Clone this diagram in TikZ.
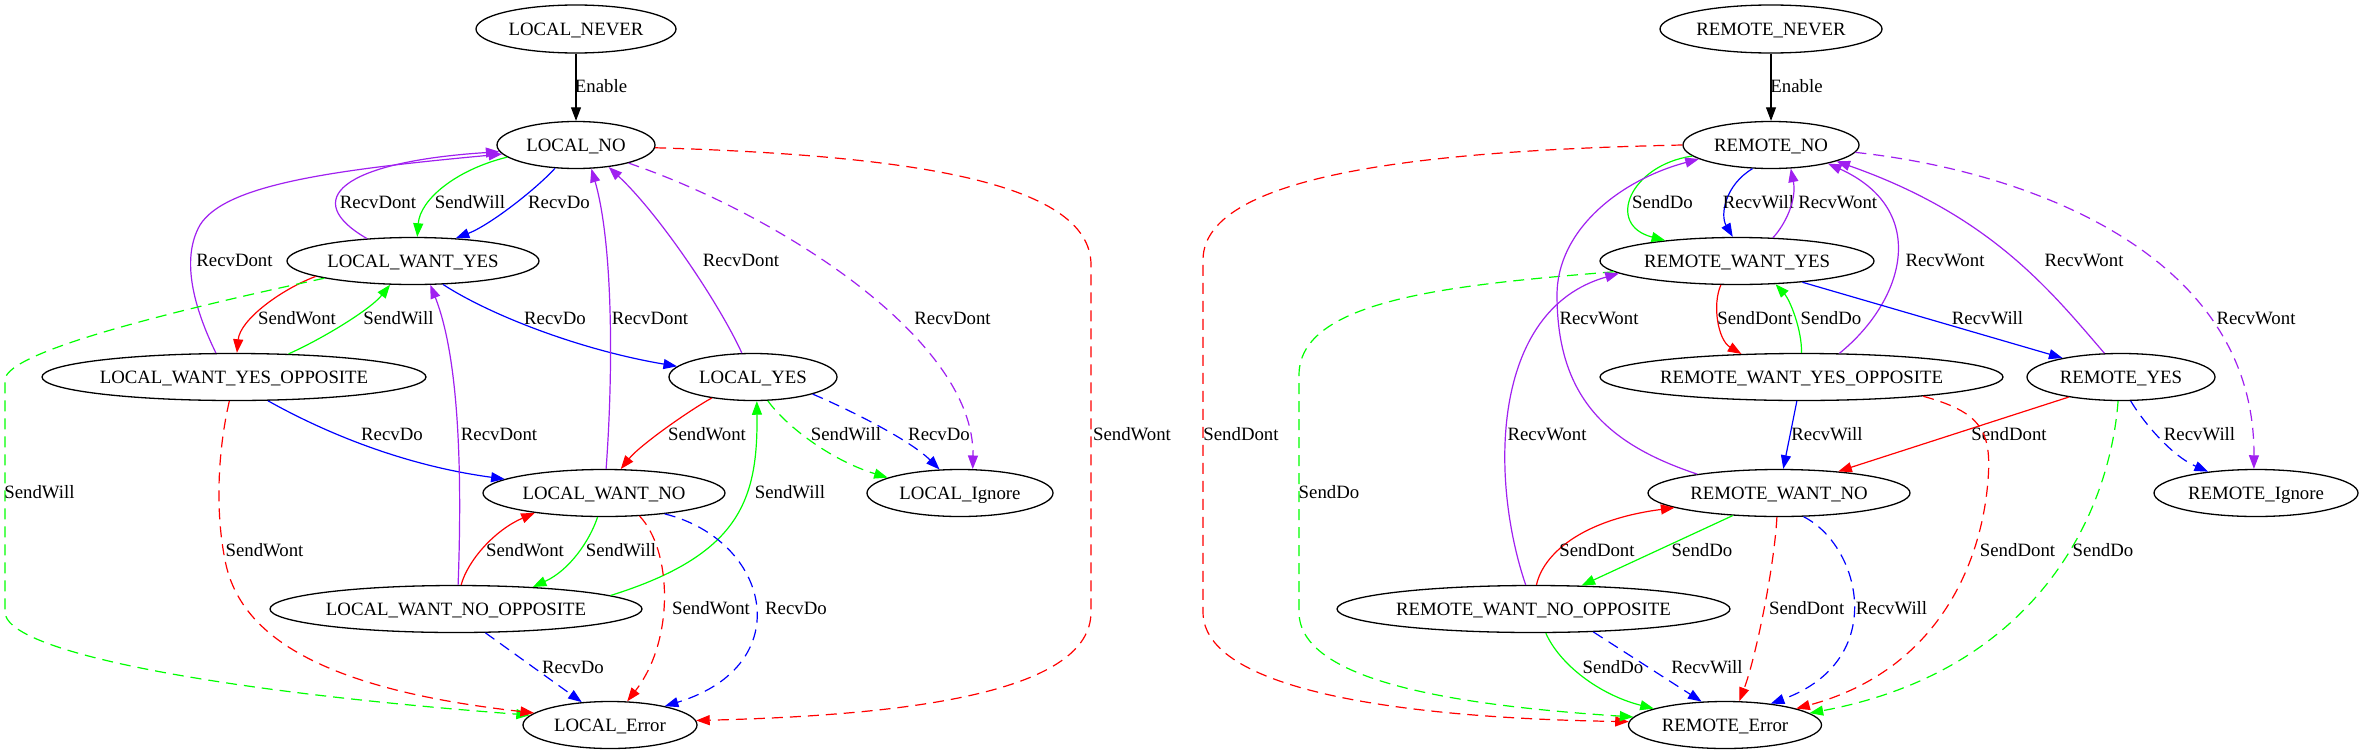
\documentclass[tikz,border=0pt]{standalone}
\usepackage{fontspec}
\setmainfont{Liberation Serif}
\usetikzlibrary{shapes.geometric,arrows.meta}
\definecolor{gvpurple}{HTML}{A020F0}
\definecolor{gvgreen}{HTML}{00FF00}
\definecolor{gvblue}{HTML}{0000FF}
\definecolor{gvred}{HTML}{FF0000}
\tikzset{
  st/.style={ellipse, draw=black, line width=0.65pt, inner sep=0pt, minimum height=23.5pt,
    font=\fontsize{9.4}{11}\selectfont, text height=6.2pt, text depth=0pt},
  lb/.style={inner sep=0pt, font=\fontsize{9.4}{11}\selectfont, text height=6.2pt, text depth=0pt, text=black},
  ar/.style={line width=0.6pt, -{Triangle[length=6.8pt,width=5pt]}},
  blk/.style={ar, draw=black},
  gr/.style={ar, draw=gvgreen},
  bl/.style={ar, draw=gvblue},
  rd/.style={ar, draw=gvred},
  pu/.style={ar, draw=gvpurple},
  dsh/.style={dash pattern=on 5.5pt off 3.5pt}
}
\begin{document}
\begin{tikzpicture}[x=0.5pt,y=-0.5pt]
\useasboundingbox (0,0) rectangle (2364,755);
\fill[white] (0,0) rectangle (2364,755);
% ---------- LOCAL nodes ----------
\node[st, minimum width=100pt, minimum height=24pt] (LN) at (576,29) {LOCAL\_NEVER};
\node[st, minimum width=79pt] (L0) at (576,145) {LOCAL\_NO};
\node[st, minimum width=126pt] (LWY) at (413,261) {LOCAL\_WANT\_YES};
\node[st, minimum width=192pt] (LWYO) at (234,377) {LOCAL\_WANT\_YES\_OPPOSITE};
\node[st, minimum width=84pt] (LY) at (753,377) {LOCAL\_YES};
\node[st, minimum width=121pt] (LWN) at (604,493) {LOCAL\_WANT\_NO};
\node[st, minimum width=93pt] (LI) at (960,493) {LOCAL\_Ignore};
\node[st, minimum width=186pt] (LWNO) at (456,609) {LOCAL\_WANT\_NO\_OPPOSITE};
\node[st, minimum width=87pt] (LE) at (610,725) {LOCAL\_Error};
% ---------- REMOTE nodes ----------
\node[st, minimum width=111pt, minimum height=24pt] (RN) at (1771,29) {REMOTE\_NEVER};
\node[st, minimum width=88pt] (R0) at (1771,145) {REMOTE\_NO};
\node[st, minimum width=137pt] (RWY) at (1737,261) {REMOTE\_WANT\_YES};
\node[st, minimum width=201.5pt] (RWYO) at (1801.5,377) {REMOTE\_WANT\_YES\_OPPOSITE};
\node[st, minimum width=94pt] (RY) at (2121,377) {REMOTE\_YES};
\node[st, minimum width=131pt] (RWN) at (1779,493) {REMOTE\_WANT\_NO};
\node[st, minimum width=102pt] (RI) at (2256,493) {REMOTE\_Ignore};
\node[st, minimum width=196.5pt] (RWNO) at (1533.5,609) {REMOTE\_WANT\_NO\_OPPOSITE};
\node[st, minimum width=96.5pt] (RE) at (1725,725) {REMOTE\_Error};
% ---------- LOCAL edges ----------
\draw[blk] (LN) -- (L0) node[lb] at (601,86) {Enable};
\draw[gr] (L0.190) .. controls (455,170) and (420,200) .. (LWY.80) node[lb] at (470,202) {SendWill};
\draw[bl] (L0.228) .. controls (535,190) and (490,225) .. (LWY.28) node[lb] at (559,202) {RecvDo};
\draw[pu] (LWY.154) .. controls (300,200) and (340,162) .. (L0.185) node[lb] at (378,202) {RecvDont};
\draw[pu] (LWYO.127) .. controls (195,310) and (180,260) .. (200,225) .. controls (225,185) and (330,170) .. (L0.187) node[lb] at (234.5,260) {RecvDont};
\draw[rd] (LWY.189) .. controls (280,290) and (240,320) .. (LWYO.83) node[lb] at (297,318) {SendWont};
\draw[gr] (LWYO.23) .. controls (320,340) and (370,310) .. (LWY.226) node[lb] at (398.5,318) {SendWill};
\draw[gr,dsh] (LWY.191) .. controls (200,305) and (5,350) .. (5,380) -- (5,612) .. controls (5,650) and (200,690) .. (LE.173) node[lb] at (39.5,492) {SendWill};
\draw[bl] (LWY.322) .. controls (490,315) and (580,350) .. (LY.172) node[lb] at (555,318) {RecvDo};
\draw[bl] (LWYO.325) .. controls (320,430) and (400,465) .. (LWN.172) node[lb] at (392,434) {RecvDo};
\draw[rd,dsh] (LWYO.259) .. controls (218,450) and (215,510) .. (225,560) .. controls (240,640) and (330,690) .. (LE.171) node[lb] at (264.5,550) {SendWont};
\draw[pu] (LWNO.85) .. controls (462,480) and (460,360) .. (LWY.306) node[lb] at (499,434) {RecvDont};
\draw[pu] (LWN.85) .. controls (614,360) and (612,240) .. (L0.303) node[lb] at (650,318) {RecvDont};
\draw[pu] (LY.115) .. controls (720,305) and (660,215) .. (L0.326) node[lb] at (741,260) {RecvDont};
\draw[pu,dsh] (L0.341) .. controls (780,215) and (975,340) .. (LI.62) node[lb] at (952.5,318) {RecvDont};
\draw[rd,dsh] (L0.358) .. controls (900,155) and (1091,180) .. (1091,265) -- (1091,612) .. controls (1091,690) and (920,715) .. (LE.3) node[lb] at (1132,434) {SendWont};
\draw[rd] (LY.207) .. controls (690,410) and (640,445) .. (LWN.55) node[lb] at (707,434) {SendWont};
\draw[gr,dsh] (LY.302) .. controls (785,425) and (830,460) .. (LI.168) node[lb] at (846,434) {SendWill};
\draw[bl,dsh] (LY.344) .. controls (850,410) and (910,440) .. (LI.131) node[lb] at (939,434) {RecvDo};
\draw[gr] (LWN.255) .. controls (590,540) and (570,570) .. (LWNO.16) node[lb] at (621,550) {SendWill};
\draw[rd] (LWNO.78) .. controls (468,560) and (495,530) .. (LWN.196) node[lb] at (525,550) {SendWont};
\draw[gr] (LWNO.5) .. controls (740,555) and (758,500) .. (LY.279) node[lb] at (790,492) {SendWill};
\draw[rd,dsh] (LWN.327) .. controls (672,550) and (675,640) .. (LE.54) node[lb] at (711,608) {SendWont};
\draw[bl,dsh] (LWN.341) .. controls (770,540) and (800,665) .. (LE.19) node[lb] at (796,608) {RecvDo};
\draw[bl,dsh] (LWNO.321) -- (LE.141) node[lb] at (573,667) {RecvDo};
% ---------- REMOTE edges ----------
\draw[blk] (RN) -- (R0) node[lb] at (1796.5,86) {Enable};
\draw[rd,dsh] (R0.180) .. controls (1450,150) and (1203,170) .. (1203,260) -- (1203,612) .. controls (1203,690) and (1400,718) .. (RE.178) node[lb] at (1241,434) {SendDont};
\draw[gr] (R0.188) .. controls (1630,165) and (1605,225) .. (RWY.164) node[lb] at (1662.5,202) {SendDo};
\draw[bl] (R0.232) .. controls (1725,185) and (1720,215) .. (RWY.100) node[lb] at (1758.5,202) {RecvWill};
\draw[pu] (RWY.33) .. controls (1785,225) and (1797,200) .. (R0.310) node[lb] at (1837.7,202) {RecvWont};
\draw[gr,dsh] (RWY.185) .. controls (1450,285) and (1299,300) .. (1299,375) -- (1299,612) .. controls (1299,680) and (1450,705) .. (RE.175) node[lb] at (1329,492) {SendDo};
\draw[pu] (RWNO.108) .. controls (1490,480) and (1490,310) .. (RWY.186) node[lb] at (1547,434) {RecvWont};
\draw[pu] (RWN.167) .. controls (1610,445) and (1557,400) .. (1557,295) .. controls (1557,230) and (1620,180) .. (R0.191) node[lb] at (1599,318) {RecvWont};
\draw[rd] (RWY.236) .. controls (1712,305) and (1718,340) .. (RWYO.159) node[lb] at (1755,318) {SendDont};
\draw[gr] (RWYO.90) .. controls (1802,330) and (1790,300) .. (RWY.329) node[lb] at (1831,318) {SendDo};
\draw[pu] (RWYO.32) .. controls (1905,300) and (1930,210) .. (R0.342) node[lb] at (1945,260) {RecvWont};
\draw[bl] (RWY.342) -- (RY.162) node[lb] at (1987.5,318) {RecvWill};
\draw[pu] (RY.125) .. controls (2050,290) and (1990,215) .. (R0.346) node[lb] at (2084,260) {RecvWont};
\draw[pu,dsh] (R0.355) .. controls (2020,170) and (2255,250) .. (RI.95) node[lb] at (2256,318) {RecvWont};
\draw[bl] (RWYO.259) -- (RWN.80) node[lb] at (1827,434) {RecvWill};
\draw[rd] (RY.201) -- (RWN.20) node[lb] at (2009,434) {SendDont};
\draw[rd,dsh] (RWYO.351) .. controls (1980,412) and (1992,430) .. (1988,480) .. controls (1982,560) and (1940,670) .. (RE.13) node[lb] at (2017.5,550) {SendDont};
\draw[gr,dsh] (RY.263) .. controls (2110,510) and (2040,670) .. (RE.8) node[lb] at (2103,550) {SendDo};
\draw[bl,dsh] (RY.292) .. controls (2142,420) and (2170,455) .. (RI.156) node[lb] at (2199.5,434) {RecvWill};
\draw[gr] (RWN.206) -- (RWNO.26) node[lb] at (1702,550) {SendDo};
\draw[rd] (RWNO.83) .. controls (1543,555) and (1580,520) .. (RWN.188) node[lb] at (1597,550) {SendDont};
\draw[rd,dsh] (RWN.265) .. controls (1774,570) and (1755,660) .. (RE.59) node[lb] at (1806.7,608) {SendDont};
\draw[bl,dsh] (RWN.316) .. controls (1860,545) and (1890,660) .. (RE.25) node[lb] at (1891.5,608) {RecvWill};
\draw[gr] (RWNO.297) .. controls (1560,665) and (1600,695) .. (RE.167) node[lb] at (1613,667) {SendDo};
\draw[bl,dsh] (RWNO.339) -- (RE.135) node[lb] at (1707,667) {RecvWill};
\end{tikzpicture}
\end{document}
